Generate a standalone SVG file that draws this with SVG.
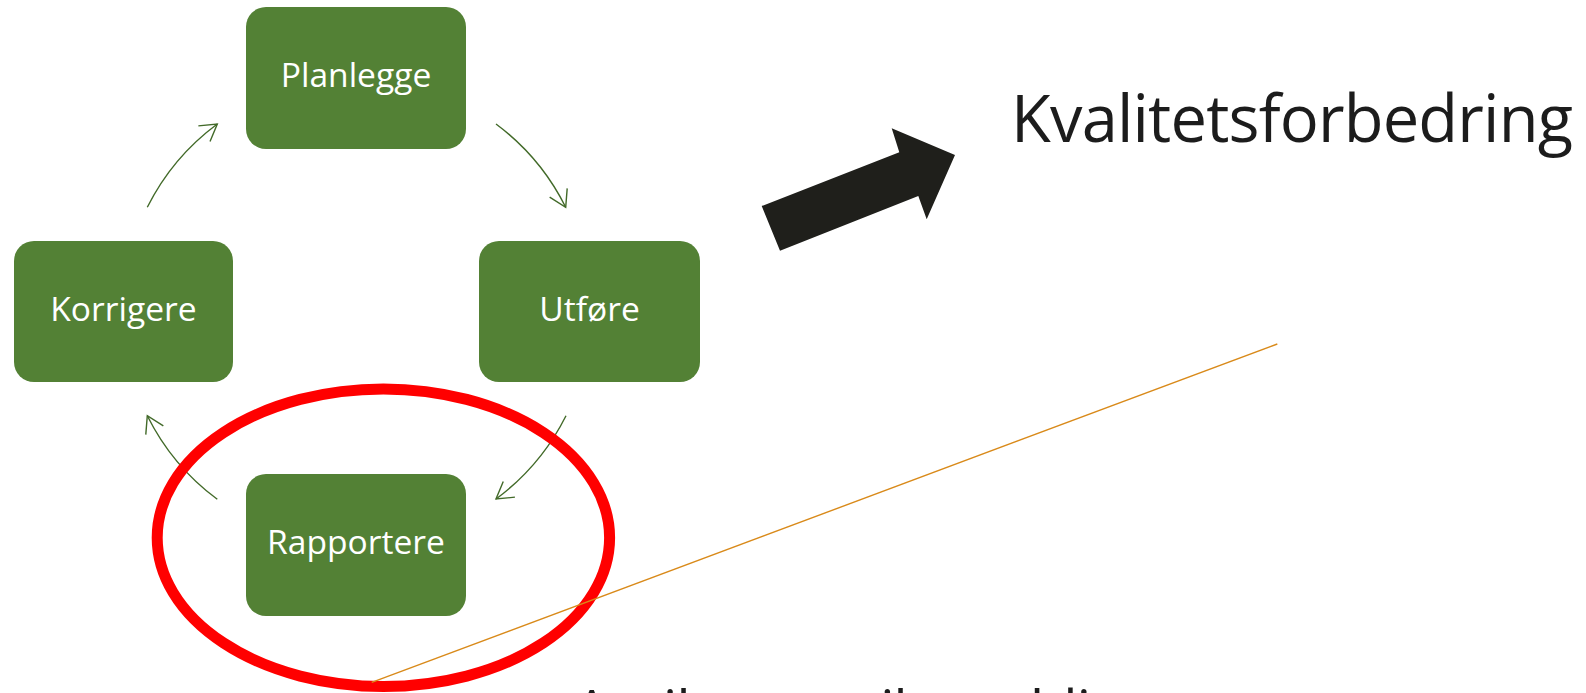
<svg xmlns="http://www.w3.org/2000/svg" width="1586" height="693" viewBox="0 0 1586 693">
  <style>
    .box { fill: #538135; }
    .lbl { fill: #ffffff; font-family: "Open Sans", "Liberation Sans", sans-serif; font-size: 33.6px; text-anchor: middle; }
    .arc { fill: none; stroke: #426a29; stroke-width: 1.4; marker-end: url(#ah); }
    .big { fill: #1c1c1c; font-family: "Open Sans", "Liberation Sans", sans-serif; }
  </style>
  <defs>
    <marker id="ah" markerUnits="userSpaceOnUse" markerWidth="40" markerHeight="40" refX="20" refY="20" orient="auto" overflow="visible">
      <path d="M 3.7 10.2 L 20 20 L 3.7 29.8" fill="none" stroke="#426a29" stroke-width="1.4"/>
    </marker>
  </defs>
  <rect width="1586" height="693" fill="#ffffff"/>

  <g id="node-planlegge">
    <rect class="box" x="246" y="7" width="220" height="142" rx="20"/>
    <text class="lbl" x="356" y="87">Planlegge</text>
  </g>
  <g id="node-utfore">
    <rect class="box" x="479" y="241" width="221" height="141" rx="20"/>
    <text class="lbl" x="589.5" y="320.5">Utføre</text>
  </g>
  <g id="node-rapportere">
    <rect class="box" x="246" y="474" width="220" height="142" rx="20"/>
    <text class="lbl" x="356" y="554">Rapportere</text>
  </g>
  <g id="node-korrigere">
    <rect class="box" x="14" y="241" width="219" height="141" rx="20"/>
    <text class="lbl" x="123.5" y="320.5">Korrigere</text>
  </g>

  <g id="connectors">
    <path class="arc" d="M 147.3 207.3 A 234 234 0 0 1 217.3 124"/>
    <path class="arc" d="M 496 124 A 234 234 0 0 1 565.7 207.3"/>
    <path class="arc" d="M 566 415.7 A 234 234 0 0 1 496 499"/>
    <path class="arc" d="M 217.3 499.3 A 234 234 0 0 1 147.3 415.7"/>
  </g>

  <g id="highlight">
    <ellipse cx="383.4" cy="537.75" rx="226.2" ry="148.75" fill="none" stroke="#ff0000" stroke-width="11"/>
    <line x1="371.7" y1="682.3" x2="1277.3" y2="344" stroke="#d98a1a" stroke-width="1.4"/>
  </g>

  <g id="big-arrow">
    <polygon points="761.7,206 899.3,152.3 891.7,128.3 955,155 926.7,219.3 918.3,196 780,250.7" fill="#1f1f1b"/>
  </g>

  <g id="title">
    <text class="big" x="1011" y="141.6" font-size="65" textLength="562" lengthAdjust="spacing">Kvalitetsforbedring</text>
  </g>
  <g id="bottom-text">
    <text class="big" x="574" y="731" font-size="56" textLength="633" lengthAdjust="spacing">Avvik og avviksmeldinger</text>
  </g>
</svg>
